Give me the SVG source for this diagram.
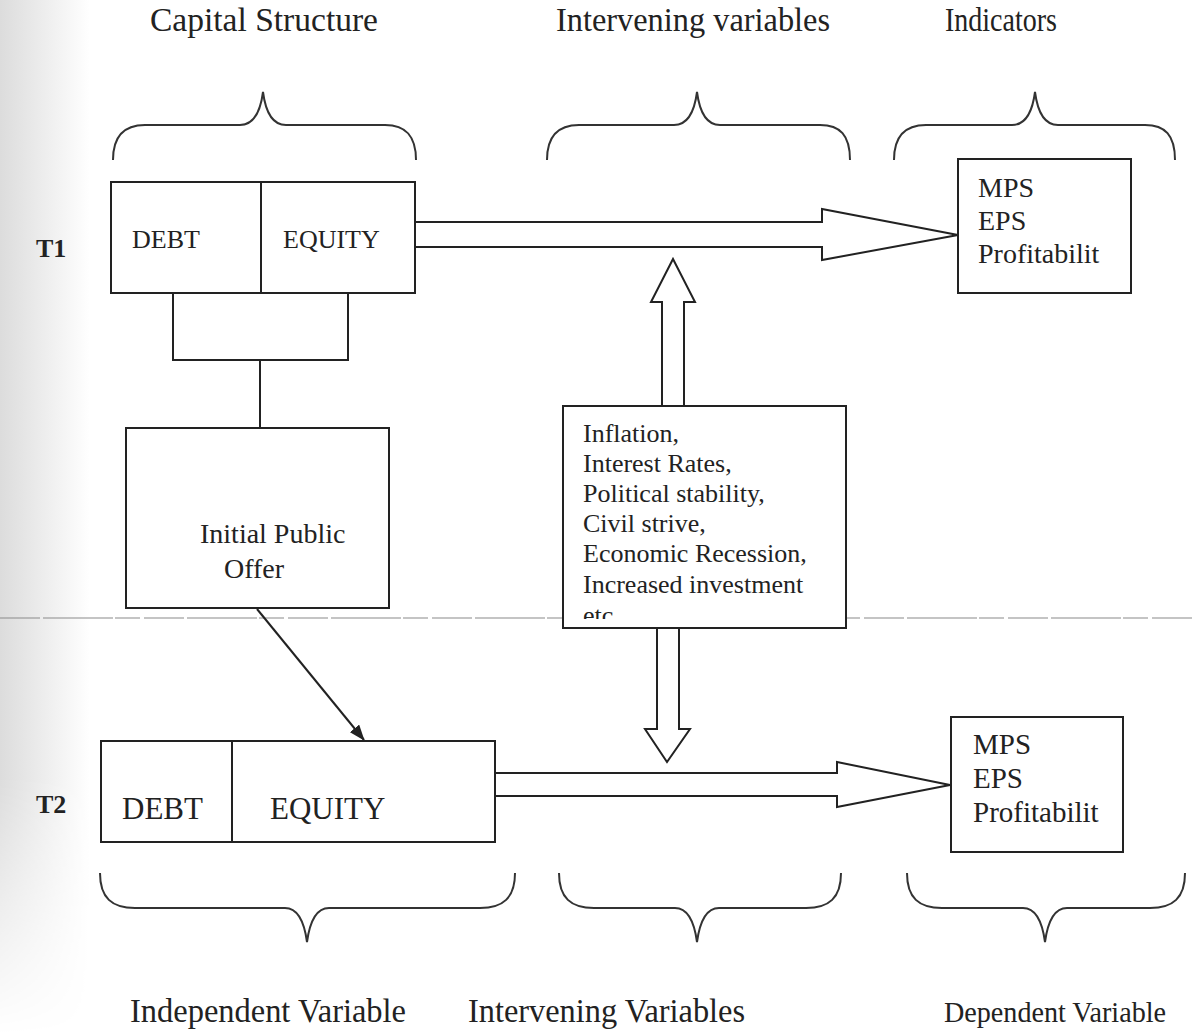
<svg xmlns="http://www.w3.org/2000/svg" width="1193" height="1035" viewBox="0 0 1193 1035">
<style>
.t{font-family:"Liberation Serif","Times New Roman",serif;fill:#222}
.b{font-weight:bold}
.box{fill:#fff;stroke:#222;stroke-width:2}
.ln{fill:none;stroke:#222;stroke-width:2}
.fat{fill:#fff;stroke:#222;stroke-width:2;stroke-linejoin:miter}
.br{fill:none;stroke:#333;stroke-width:2}
</style>
<defs>
<linearGradient id="scan" x1="0" y1="0" x2="1" y2="0">
<stop offset="0" stop-color="#dcdcdc"/>
<stop offset="1" stop-color="#ffffff"/>
</linearGradient>
<linearGradient id="fadeV" x1="0" y1="0" x2="0" y2="1">
<stop offset="0" stop-color="#fff"/>
<stop offset="0.75" stop-color="#fff"/>
<stop offset="1" stop-color="#000"/>
</linearGradient>
<mask id="scanmask"><rect x="0" y="0" width="100" height="1035" fill="url(#fadeV)"/></mask>
<marker id="ah" markerWidth="16" markerHeight="12" refX="15" refY="6" orient="auto" markerUnits="userSpaceOnUse">
<path d="M0,0 L16,6 L0,12 Z" fill="#222"/>
</marker>
<clipPath id="midclip"><rect x="563" y="406" width="283" height="213"/></clipPath>
</defs>
<rect x="0" y="0" width="1193" height="1035" fill="#fff"/>
<rect x="0" y="0" width="90" height="1035" fill="url(#scan)" mask="url(#scanmask)"/>
<line x1="0" y1="618" x2="1193" y2="618" stroke="#8a8a8a" stroke-width="1.2" stroke-dasharray="40,3,70,2,25,4"/>

<g id="headings">
<text class="t" x="150" y="31" font-size="33" textLength="228" lengthAdjust="spacingAndGlyphs">Capital Structure</text>
<text class="t" x="556" y="31" font-size="33" textLength="274" lengthAdjust="spacingAndGlyphs">Intervening variables</text>
<text class="t" x="945" y="31" font-size="33" textLength="112" lengthAdjust="spacingAndGlyphs">Indicators</text>
<text class="t" x="130" y="1022" font-size="33" textLength="276" lengthAdjust="spacingAndGlyphs">Independent Variable</text>
<text class="t" x="468" y="1022" font-size="33" textLength="277" lengthAdjust="spacingAndGlyphs">Intervening Variables</text>
<text class="t" x="944" y="1022" font-size="30" textLength="222" lengthAdjust="spacingAndGlyphs">Dependent Variable</text>
<text class="t b" x="36" y="257" font-size="26">T1</text>
<text class="t b" x="36" y="813" font-size="26">T2</text>
</g>

<g id="braces">
<path class="br" d="M113,160 C113,135 125,125 145,125 H240 C252,125 260,115 263,92 C266,115 274,125 286,125 H385 C405,125 416,135 416,160"/>
<path class="br" d="M547,160 C547,135 559,125 579,125 H674 C686,125 694,115 697,92 C700,115 708,125 720,125 H820 C840,125 850,135 850,160"/>
<path class="br" d="M894,160 C894,135 906,125 926,125 H1012 C1024,125 1032,115 1035,92 C1038,115 1046,125 1058,125 H1145 C1165,125 1175,135 1175,160"/>
<path class="br" d="M100,873 C100,898 112,908 135,908 H285 C297,908 304,920 307,942 C310,920 317,908 329,908 H480 C503,908 515,898 515,873"/>
<path class="br" d="M559,873 C559,898 571,908 594,908 H675 C687,908 694,920 697,942 C700,920 707,908 719,908 H806 C829,908 841,898 841,873"/>
<path class="br" d="M907,873 C907,898 919,908 942,908 H1023 C1035,908 1042,920 1045,942 C1048,920 1055,908 1067,908 H1150 C1173,908 1185,898 1185,873"/>
</g>

<g id="connectors">
<path class="ln" d="M173,293 V360 H348 V293"/>
<path class="ln" d="M260,360 V428"/>
<line class="ln" x1="257" y1="609" x2="364" y2="740" marker-end="url(#ah)"/>
<path class="fat" d="M415,222 H822 V209 L958,235 L822,260 V247 H415"/>
<path class="fat" d="M495,773 H837 V762 L950,785 L837,807 V796 H495"/>
<path class="fat" d="M662,406 V302 H651 L673,259 L695,302 H684 V406"/>
<path class="fat" d="M657,628 V729 H645 L667,762 L690,729 H679 V628"/>
</g>

<g id="t1-capital">
<rect class="box" x="111" y="182" width="304" height="111"/>
<line class="ln" x1="261" y1="182" x2="261" y2="293"/>
<text class="t" x="132" y="248" font-size="26">DEBT</text>
<text class="t" x="283" y="248" font-size="26">EQUITY</text>
</g>

<g id="t1-indicators">
<rect class="box" x="958" y="159" width="173" height="134"/>
<text class="t" x="978" y="197" font-size="28">MPS</text>
<text class="t" x="978" y="230" font-size="28">EPS</text>
<text class="t" x="978" y="263" font-size="28">Profitabilit</text>
</g>

<g id="ipo">
<rect class="box" x="126" y="428" width="263" height="180"/>
<text class="t" x="200" y="543" font-size="28">Initial Public</text>
<text class="t" x="224" y="578" font-size="28">Offer</text>
</g>

<g id="intervening">
<rect class="box" x="563" y="406" width="283" height="222"/>
<g clip-path="url(#midclip)">
<text class="t" x="583" y="442" font-size="26">Inflation,</text>
<text class="t" x="583" y="472" font-size="26">Interest Rates,</text>
<text class="t" x="583" y="502" font-size="26">Political stability,</text>
<text class="t" x="583" y="532" font-size="26">Civil strive,</text>
<text class="t" x="583" y="562" font-size="26">Economic Recession,</text>
<text class="t" x="583" y="593" font-size="26">Increased investment</text>
<text class="t" x="583" y="624" font-size="26">etc</text>
</g>
</g>

<g id="t2-capital">
<rect class="box" x="101" y="741" width="394" height="101"/>
<line class="ln" x1="232" y1="741" x2="232" y2="842"/>
<text class="t" x="122" y="819" font-size="31">DEBT</text>
<text class="t" x="270" y="819" font-size="31">EQUITY</text>
</g>

<g id="t2-indicators">
<rect class="box" x="951" y="717" width="172" height="135"/>
<text class="t" x="973" y="754" font-size="29">MPS</text>
<text class="t" x="973" y="788" font-size="29">EPS</text>
<text class="t" x="973" y="822" font-size="29">Profitabilit</text>
</g>
</svg>
